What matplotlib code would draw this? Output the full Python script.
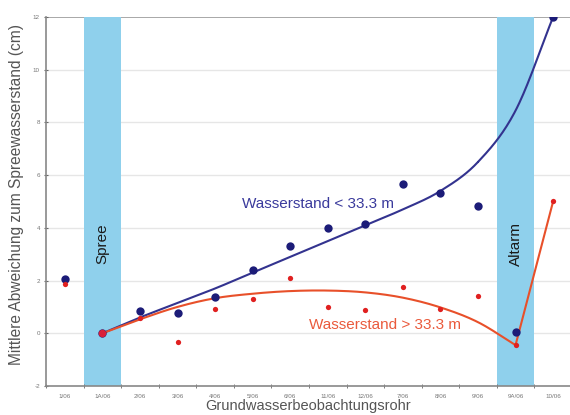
import numpy as np
import matplotlib
matplotlib.use("Agg")
import matplotlib.pyplot as plt

plt.rcParams['font.family'] = ['Liberation Sans', 'DejaVu Sans']

categories = ["1/06", "1A/06", "2/06", "3/06", "4/06", "5/06", "6/06", "11/06",
              "12/06", "7/06", "8/06", "9/06", "9A/06", "10/06"]
blue_values = [2.07, 0.0, 0.83, 0.76, 1.36, 2.39, 3.3, 4.0, 4.13, 5.68, 5.32, 4.83, 0.04, 12.0]
red_values = [1.86, 0.0, 0.57, -0.34, 0.91, 1.29, 2.08, 0.98, 0.87, 1.74, 0.91, 1.4, -0.45, 5.0]
# trend lines (from 1A/06 onwards)
trend_x = [1, 2, 3, 4, 5, 6, 7, 8, 9, 10, 11, 12, 13]
blue_trend = [0.0, 0.6, 1.15, 1.7, 2.3, 2.9, 3.5, 4.1, 4.7, 5.4, 6.5, 8.45, 12.0]
red_trend = [0.0, 0.53, 1.0, 1.33, 1.5, 1.6, 1.62, 1.55, 1.35, 0.98, 0.42, -0.45, 5.0]
bands = [("Spree", 1), ("Altarm", 12)]
y_ticks = [-2, 0, 2, 4, 6, 8, 10, 12]


def catmull(xs, ys, n=30):
    xs = np.asarray(xs, float)
    ys = np.asarray(ys, float)
    px = np.concatenate([[2 * xs[0] - xs[1]], xs, [2 * xs[-1] - xs[-2]]])
    py = np.concatenate([[2 * ys[0] - ys[1]], ys, [2 * ys[-1] - ys[-2]]])
    outx, outy = [], []
    for i in range(1, len(px) - 2):
        t = np.linspace(0, 1, n)
        for arr, out in ((px, outx), (py, outy)):
            p0, p1, p2, p3 = arr[i - 1], arr[i], arr[i + 1], arr[i + 2]
            out.extend(0.5 * (2 * p1 + (-p0 + p2) * t + (2 * p0 - 5 * p1 + 4 * p2 - p3) * t ** 2
                              + (-p0 + 3 * p1 - 3 * p2 + p3) * t ** 3))
    return np.array(outx), np.array(outy)


fig = plt.figure(figsize=(5.7, 4.15), dpi=100)
ax = fig.add_axes([0.081, 0.07, 0.919, 0.889])
x = np.arange(len(categories))

for name, idx in bands:
    ax.axvspan(idx - 0.5, idx + 0.5, color="#8fd0ec", zorder=1, lw=0)
    ax.text(idx, 3.4, name, rotation=90, ha="center", va="center", fontsize=11,
            color="#1a1a1a", zorder=5)

for v in y_ticks:
    ax.axhline(v, color="#e6e6e6" if v != 12 else "#9a9a9a", lw=1.0 if v != 12 else 1.2, zorder=0.5)

cx, cy = catmull(trend_x, blue_trend)
ax.plot(cx, cy, color="#33338f", lw=1.5, zorder=3)
rx, ry = catmull(trend_x[:-1], red_trend[:-1])
rx = np.concatenate([rx, [trend_x[-1]]])
ry = np.concatenate([ry, [red_trend[-1]]])
ax.plot(rx, ry, color="#e8502a", lw=1.5, zorder=3)

ax.plot(x, blue_values, "o", color="#1c1c78", ms=6, zorder=4, mec="none")
ax.plot(x, red_values, "o", color="#e02020", ms=3.8, zorder=4.5, mec="none")
ax.plot(x[1:2], red_values[1:2], "o", color="#d8203a", ms=5.5, zorder=4.6, mec="none")

ax.text(6.73, 4.9, "Wasserstand < 33.3 m", color="#3a3a9c", fontsize=11,
        ha="center", va="center", zorder=6)
ax.text(8.53, 0.32, "Wasserstand > 33.3 m", color="#ea5a3c", fontsize=11,
        ha="center", va="center", zorder=6)

ax.set_xlim(-0.5, 13.45)
ax.set_ylim(-2, 12)
ax.set_yticks(y_ticks)
ax.set_yticklabels([str(v) for v in y_ticks], fontsize=4.5, color="#777777")
ax.set_xticks(x)
ax.set_xticklabels(categories, fontsize=4.5, color="#777777")
ax.set_xticks(np.arange(-0.5, 13.5, 1), minor=True)
ax.tick_params(axis="x", which="major", length=0, pad=6)
ax.tick_params(axis="x", which="minor", length=2.5, color="#666666", direction="inout")
ax.tick_params(axis="y", length=3, color="#666666", direction="inout", pad=3)
for s in ("top", "right"):
    ax.spines[s].set_visible(False)
for s in ("left", "bottom"):
    ax.spines[s].set_color("#888888")
    ax.spines[s].set_linewidth(1.2)
    ax.spines[s].set_zorder(2)

ax.set_ylabel("Mittlere Abweichung zum Spreewasserstand (cm)", fontsize=11.2, color="#555555")
ax.yaxis.set_label_coords(-0.043, 0.518)
ax.set_xlabel("Grundwasserbeobachtungsrohr", fontsize=10.5, color="#555555", labelpad=0)

fig.savefig("out.png", dpi=100)
